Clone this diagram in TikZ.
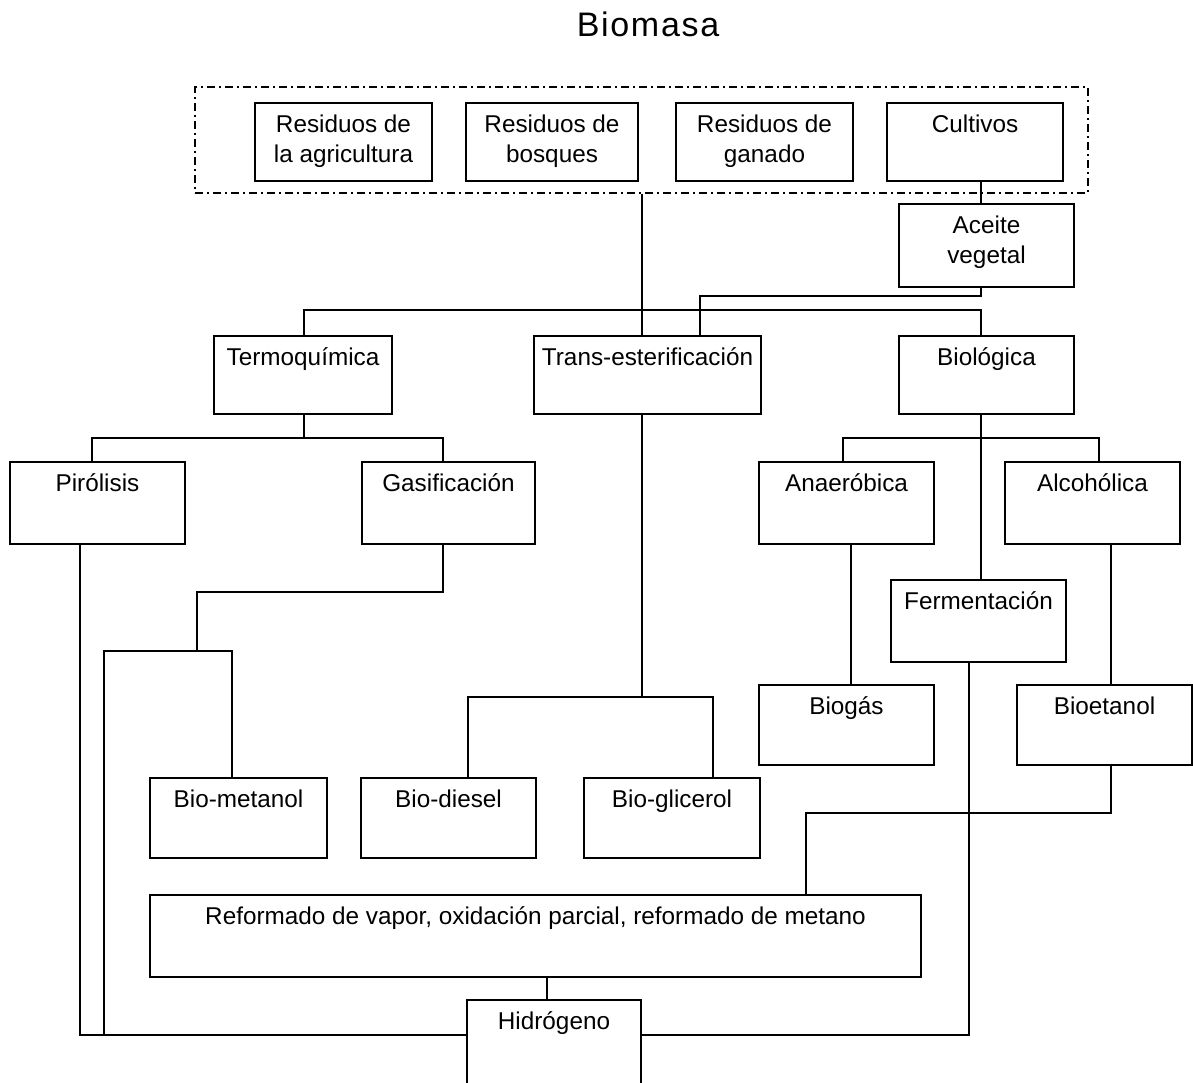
\documentclass[tikz,border=0pt]{standalone}
\usepackage{fontspec}
\setmainfont{Liberation Sans}
\usetikzlibrary{fit,calc}
\tikzset{
  boxst/.style={draw, line width=1.8pt, inner sep=0pt},
  txtst/.style={anchor=north, inner sep=0pt, align=center, font=\fontsize{24.3}{30}\selectfont},
  conn/.style={line width=1.5pt},
  grp/.style={draw, line width=2.2pt, dash pattern=on 8pt off 4pt on 2pt off 4pt},
}
% \bx{name}{x1}{y1}{x2}{y2}{text}
\newcommand\bx[6]{%
  \node[boxst, fit={(#2,#3)(#4,#5)}] (#1) {};
  \node[txtst] (#1-t) at ($(#1.north)+(0,9)$) {\rule{0pt}{21pt}#6};
}
\begin{document}
\begin{tikzpicture}[x=1pt, y=-1pt]
\useasboundingbox (0,0) rectangle (1193,1082);
\node[anchor=base, inner sep=0pt, font=\fontsize{34}{40}\selectfont\addfontfeature{LetterSpace=5}] (title) at (648,36) {Biomasa};

\node[grp, inner sep=0pt, fit={(195,87)(1088,193)}] (group) {};
\bx{agri}{255}{103}{432}{181}{Residuos de\\la agricultura}
\bx{bosq}{466}{103}{638}{181}{Residuos de\\bosques}
\bx{gana}{676}{103}{853}{181}{Residuos de\\ganado}
\bx{cult}{887}{103}{1063}{181}{Cultivos}
\bx{acei}{899}{204}{1074}{287}{Aceite\\vegetal}

\bx{term}{214}{336}{392}{414}{Termoquímica}
\bx{tran}{534}{336}{761}{414}{Trans-esterificación}
\bx{biol}{899}{336}{1074}{414}{Biológica}

\bx{piro}{10}{462}{185}{544}{Pirólisis}
\bx{gasi}{362}{462}{535}{544}{Gasificación}
\bx{anae}{759}{462}{934}{544}{Anaeróbica}
\bx{alco}{1005}{462}{1180}{544}{Alcohólica}
\bx{ferm}{891}{580}{1066}{662}{Fermentación}
\bx{biog}{759}{685}{934}{765}{Biogás}
\bx{bioe}{1017}{685}{1192}{765}{Bioetanol}

\bx{bmet}{150}{778}{327}{858}{Bio-metanol}
\bx{bdie}{361}{778}{536}{858}{Bio-diesel}
\bx{bgli}{584}{778}{760}{858}{Bio-glicerol}

\bx{refo}{150}{895}{921}{977}{Reformado de vapor, oxidación parcial, reformado de metano}
\bx{hidr}{467}{1000}{641}{1090}{Hidrógeno}

% connectors
\draw[conn] (642,0 |- group.south) -- (642,0 |- tran.north);
\draw[conn] (304,0 |- term.north) |- (981,310) -- (981,0 |- biol.north);
\draw[conn] (981,0 |- cult.south) -- (981,0 |- acei.north);
\draw[conn] (981,0 |- acei.south) |- (700,296) -- (700,0 |- tran.north);

\draw[conn] (304,0 |- term.south) -- (304,438);
\draw[conn] (92,0 |- piro.north) |- (443,438) -- (443,0 |- gasi.north);

\draw[conn] (981,0 |- biol.south) -- (981,0 |- ferm.north);
\draw[conn] (843,0 |- anae.north) |- (1099,438) -- (1099,0 |- alco.north);
\draw[conn] (851,0 |- anae.south) -- (851,0 |- biog.north);
\draw[conn] (1111,0 |- alco.south) -- (1111,0 |- bioe.north);

\draw[conn] (642,0 |- tran.south) -- (642,697);
\draw[conn] (468,0 |- bdie.north) |- (713,697) -- (713,0 |- bgli.north);

\draw[conn] (443,0 |- gasi.south) |- (197,592) -- (197,651);
\draw[conn] (232,0 |- bmet.north) |- (104,651) |- (hidr.west |- 0,1035);
\draw[conn] (80,0 |- piro.south) |- (104,1035);

\draw[conn] (1111,0 |- bioe.south) |- (806,813) -- (806,0 |- refo.north);
\draw[conn] (969,0 |- ferm.south) |- (hidr.east |- 0,1035);
\draw[conn] (547,0 |- refo.south) -- (547,0 |- hidr.north);
\end{tikzpicture}
\end{document}
